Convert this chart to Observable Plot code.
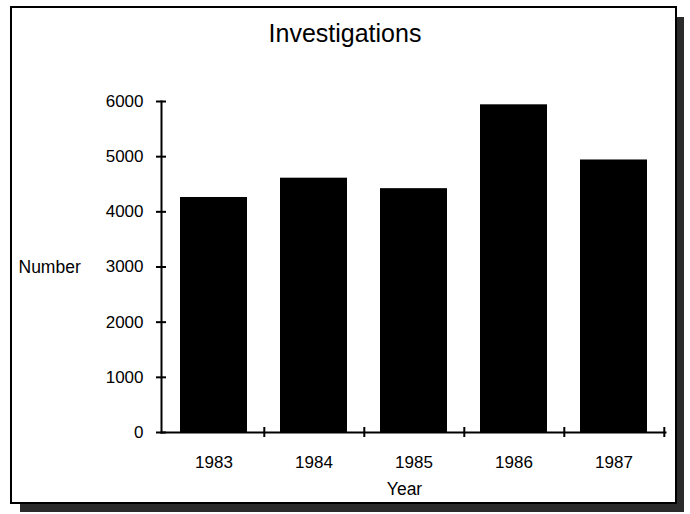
<!DOCTYPE html>
<html>
<head>
<meta charset="utf-8">
<script src="https://cdn.jsdelivr.net/npm/d3@7"></script>
<script src="https://cdn.jsdelivr.net/npm/@observablehq/plot@0.6"></script>
<style>
  html, body { margin: 0; padding: 0; background: white; }
  #wrap { position: relative; width: 690px; height: 514px; background: white; overflow: hidden; }
  #title { position: absolute; top: 18px; left: 0; width: 690px; text-align: center;
           font-family: "Liberation Sans", Arial, sans-serif; font-size: 25px; line-height: 30px; color: #000; z-index: 2; }
  #frame { position: absolute; left: 10px; top: 6px; width: 667px; height: 498px; box-sizing: border-box;
           border: 2px solid #000; pointer-events: none; z-index: 3; }
  .shadow { position: absolute; background: #2b2b2b; z-index: 1; }
  #chart { position: absolute; left: 0; top: 0; z-index: 2; }
</style>
</head>
<body>
<div id="wrap">
  <div class="shadow" style="left:676px; top:17px; width:8px; height:495px;"></div>
  <div class="shadow" style="left:20px; top:503px; width:664px; height:9px;"></div>
  <div id="frame"></div>
  <div id="title">Investigations</div>
  <div id="chart"></div>
</div>
<script>
const years = ["1983", "1984", "1985", "1986", "1987"];
const counts = [4260, 4610, 4420, 5940, 4940];
const yTicks = [0, 1000, 2000, 3000, 4000, 5000, 6000];
const yLabel = "Number";
const xLabel = "Year";

const data = years.map((year, i) => ({year, count: counts[i]}));
const FONT = '"Liberation Sans", Arial, sans-serif';

const marginLeft = 161, marginRight = 25;
const n = years.length, pIn = 0.33, pOut = 0.17;
const step = (690 - marginLeft - marginRight) / (n - pIn + 2 * pOut);

const chart = Plot.plot({
  width: 690,
  height: 514,
  marginTop: 101,
  marginBottom: 82,
  marginLeft,
  marginRight,
  style: {background: "transparent", fontFamily: FONT, fontSize: "17px", color: "black"},
  x: {domain: years, paddingInner: pIn, paddingOuter: pOut},
  y: {domain: [0, 6000]},
  marks: [
    Plot.barY(data, {x: "year", y: "count", fill: "black"}),
    Plot.frame({anchor: "left", strokeWidth: 2}),
    Plot.frame({anchor: "bottom", strokeWidth: 2}),
    Plot.axisY({ticks: yTicks, tickSize: 10, dx: 5, tickFormat: () => "", label: null, strokeWidth: 2}),
    Plot.axisY({ticks: yTicks, tickSize: 0, tickPadding: 18, label: null, tickFormat: d => String(d), fontSize: 17}),
    Plot.axisX({tickSize: 10, dy: -5, dx: step / 2, tickFormat: () => "", label: null, strokeWidth: 2}),
    Plot.axisX({tickSize: 0, tickPadding: 23, label: null, fontSize: 17}),
    Plot.text([{t: yLabel, v: 3000}], {y: "v", text: "t", frameAnchor: "left", dx: -143, textAnchor: "start", fontSize: 17.5}),
    Plot.text([xLabel], {frameAnchor: "bottom", dy: 62, dx: -9, fontSize: 17.5})
  ]
});
document.getElementById("chart").appendChild(chart);
</script>
</body>
</html>
